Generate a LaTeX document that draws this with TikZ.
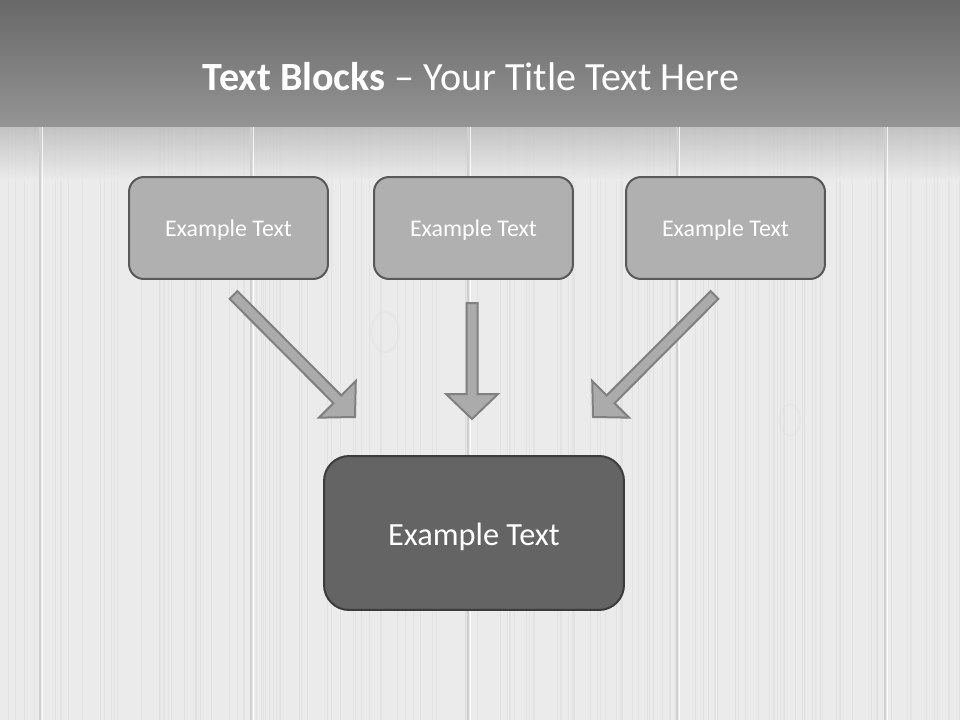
\documentclass[tikz,border=0pt]{standalone}
\usepackage{fontspec}
\setmainfont{Carlito}
\usetikzlibrary{calc}

\definecolor{woodbase}{HTML}{EBEBEB}
\definecolor{woodseam}{HTML}{D0D0D0}
\definecolor{woodgrain}{HTML}{DEDEDE}
\definecolor{bartop}{HTML}{686868}
\definecolor{barbottom}{HTML}{949494}
\definecolor{boxfill}{HTML}{B0B0B0}
\definecolor{boxline}{HTML}{595959}
\definecolor{mainfill}{HTML}{646464}
\definecolor{mainline}{HTML}{3C3C3C}
\definecolor{arrowfill}{HTML}{ABABAB}
\definecolor{arrowline}{HTML}{808080}

% block arrow from #1 (tail) to #2 (tip)
\newcommand{\blockarrow}[2]{%
  \coordinate (hb) at ($(#2)!0.5cm!(#1)$);
  \draw[barrow] ($(#1)!0.11cm!90:(#2)$) -- ($(hb)!0.11cm!90:(#2)$)
    -- ($(hb)!0.52cm!90:(#2)$) -- (#2) -- ($(hb)!0.52cm!-90:(#2)$)
    -- ($(hb)!0.11cm!-90:(#2)$) -- ($(#1)!0.11cm!-90:(#2)$) -- cycle;
}
% text lowered a little inside its block
\newcommand{\lowtext}[2]{\raisebox{#1}[\height][\depth]{#2}}

\begin{document}
\begin{tikzpicture}[x=0.02cm, y=-0.02cm,
  textblock/.style={draw=boxline, fill=boxfill, line width=0.04cm, rounded corners=0.3cm,
    minimum width=3.98cm, minimum height=2.04cm, text=white, font=\fontsize{13.6}{16}\selectfont},
  mainblock/.style={draw=mainline, fill=mainfill, line width=0.04cm, rounded corners=0.5cm,
    minimum width=6cm, minimum height=3.08cm, text=white, font=\fontsize{18.4}{22}\selectfont},
  barrow/.style={draw=arrowline, fill=arrowfill, line width=0.04cm, line join=miter}]
\useasboundingbox (0,0) rectangle (960,720);
% Background:
\fill[woodbase] (0,0) rectangle (960,720);
\pgfmathsetseed{17}
\foreach \i in {1,...,140} {
  \pgfmathsetmacro{\gx}{rnd*960}
  \pgfmathsetmacro{\gw}{0.2+rnd*0.6}
  \draw[woodgrain, line width=\gw pt, opacity=0.6] (\gx,125) -- (\gx,720);
}
\draw[woodgrain, opacity=0.35, line width=0.04cm] (385,332) ellipse (14 and 20);
\draw[woodgrain, opacity=0.35, line width=0.04cm] (790,420) ellipse (10 and 16);
\shade[top color=black!28, bottom color=woodbase, opacity=0.8] (0,125) rectangle (960,180);
\foreach \sx in {40,251,468,677,885} {
  \draw[woodseam, line width=0.04cm] (\sx,125) -- (\sx,720);
  \draw[white, line width=0.03cm, opacity=0.8] (\sx+2.5,125) -- (\sx+2.5,720);
}
\shade[top color=bartop, bottom color=barbottom] (0,0) rectangle (960,126);
% Title:
\node[text=white, font=\fontsize{22.8}{26}\selectfont] (title) at (471,77)
  {{\bfseries Text Blocks} – Your Title Text Here};
% Blocks:
\node[textblock] (ex1) at (228.5,228) {\lowtext{-1.2pt}{Example Text}};
\node[textblock] (ex2) at (473.5,228) {\lowtext{-1.2pt}{Example Text}};
\node[textblock] (ex3) at (725.5,228) {\lowtext{-1.2pt}{Example Text}};
\node[mainblock] (exm) at (474,533) {\lowtext{-2.3pt}{Example Text}};
% Arrows:
\coordinate (t1) at (233.5,295);
\coordinate (h1) at (355,417);
\coordinate (t2) at (472,303);
\coordinate (h2) at (472,419);
\coordinate (t3) at (714.5,295);
\coordinate (h3) at (593,417);
\blockarrow{t1}{h1}
\blockarrow{t2}{h2}
\blockarrow{t3}{h3}
\end{tikzpicture}
\end{document}
